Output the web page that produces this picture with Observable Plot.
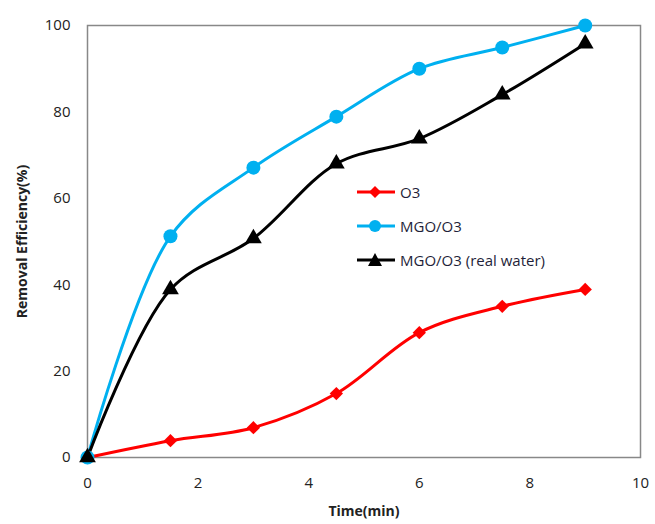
<!DOCTYPE html>
<html><head><meta charset="utf-8">
<script src="https://cdn.jsdelivr.net/npm/d3@7"></script>
<script src="https://cdn.jsdelivr.net/npm/@observablehq/plot@0.6"></script>
<style>
body{margin:0;background:#fff;font-family:"Open Sans",sans-serif;}
#wrap{position:relative;width:655px;height:524px;}
#legend{position:absolute;left:356px;top:175px;font-size:15px;color:#1f1f3a;}
#legend div{display:flex;align-items:center;height:34px;}
#legend svg{margin-right:4px;}
</style></head><body>
<div id="wrap"><div id="chart"></div><div id="legend"></div></div>
<script>
const times = [0, 1.5, 3, 4.5, 6, 7.5, 9];
const o3 = [0, 3.9, 6.9, 14.8, 28.9, 35, 38.9];
const mgoO3 = [0, 51.2, 67.1, 78.9, 90, 94.9, 100];
const mgoO3Real = [0, 38.9, 50.7, 68, 73.8, 84, 95.8];
const seriesNames = ["O3", "MGO/O3", "MGO/O3 (real water)"];
const seriesColors = ["#ff0000", "#00b0f0", "#000000"];
const seriesSymbols = ["diamond2", "circle", "triangle2"];
const xTicks = [0, 2, 4, 6, 8, 10];
const yTicks = [0, 20, 40, 60, 80, 100];

const valuesBySeries = [o3, mgoO3, mgoO3Real];
const data = [];
seriesNames.forEach((s, i) => times.forEach((t, j) => data.push({series: s, time: t, value: valuesBySeries[i][j]})));

const markR = [6, 7, 8];

const chart = Plot.plot({
  width: 655, height: 524,
  marginLeft: 87, marginRight: 15, marginTop: 25, marginBottom: 67,
  style: {fontFamily: "Open Sans, sans-serif", fontSize: "15px", color: "#222", background: "#fff"},
  x: {domain: [0, 10]},
  y: {domain: [0, 100]},
  color: {domain: seriesNames, range: seriesColors},
  symbol: {domain: seriesNames, range: seriesSymbols},
  marks: [
    Plot.frame({stroke: "#888", strokeWidth: 1.5}),
    Plot.axisX({ticks: xTicks, tickSize: 0, tickPadding: 20, label: "Time(min)", labelAnchor: "center", labelOffset: 58, labelArrow: "none", fontSize: 15}),
    Plot.axisY({ticks: yTicks, tickSize: 0, tickPadding: 17, label: "Removal Efficiency(%)", labelAnchor: "center", labelOffset: 70, labelArrow: "none", fontSize: 15}),
    Plot.line(data, {x: "time", y: "value", z: "series", stroke: "series", strokeWidth: 3, curve: "catmull-rom"}),
    ...seriesNames.map((s, i) => Plot.dot(data.filter(d => d.series === s), {x: "time", y: "value", fill: "series", symbol: "series", r: markR[i], stroke: null}))
  ]
});
chart.querySelectorAll("g[aria-label='x-axis label'] text, g[aria-label='y-axis label'] text").forEach(t => {t.style.fontWeight = "bold"; t.style.fontSize = "14px";});
document.getElementById("chart").appendChild(chart);

const leg = document.getElementById("legend");
const shapes = {
  "diamond2": '<path d="M19,1 L25,7 L19,13 L13,7Z"/>',
  "circle": '<circle cx="19" cy="7" r="6"/>',
  "triangle2": '<path d="M19,0 L26,13 L12,13Z"/>'
};
seriesNames.forEach((s, i) => {
  const row = document.createElement("div");
  row.innerHTML = `<svg width="40" height="14"><line x1="1" x2="39" y1="7" y2="7" stroke="${seriesColors[i]}" stroke-width="3"/><g fill="${seriesColors[i]}">${shapes[seriesSymbols[i]]}</g></svg><span>${s}</span>`;
  leg.appendChild(row);
});
</script>
</body></html>
